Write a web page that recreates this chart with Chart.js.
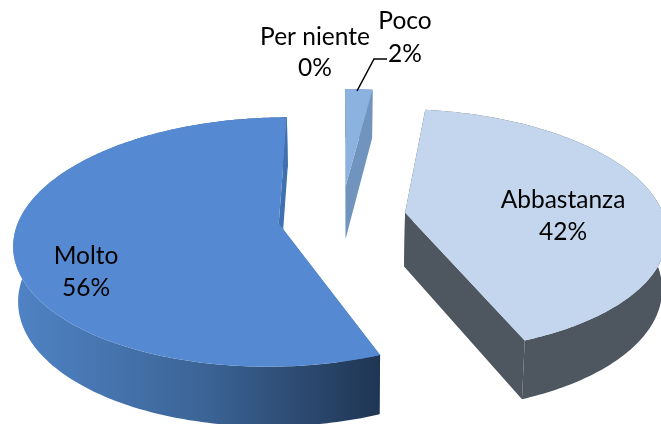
<!DOCTYPE html>
<html lang="it">
<head>
    <meta charset="UTF-8">
    <title>Torta 3D</title>
    <script src="https://cdn.jsdelivr.net/npm/chart.js"></script>
    <style>
        html, body { margin: 0; padding: 0; background: #fff; }
        canvas { display: block; }
    </style>
</head>
<body>
    <canvas id="pieChart" width="661" height="424"></canvas>

    <script>
        const categories = ['Per niente', 'Poco', 'Abbastanza', 'Molto'];
        const percentages = [0, 2, 42, 56];

        const topColors = ['#4f81bd', '#8cb2e0', '#c3d6ed', '#558ad2'];
        const wallColors = ['#4f81bd', '#7094be', '#4e5660', '#3f70b0'];
        const explode = [37, 34, 37, 37];

        // centre of each label (two lines: name, percentage)
        const labelSpots = [[315, 37, 68], [405, 21, 54], [563, 200, 232], [86, 256, 288]];
        const leaderLine = [[357, 91], [374, 59], [387, 59]];

        // how the flat pie is laid down in perspective
        const view = { cx: 342, cy: 217, sx: 259, sy: 120, persp: 0.147, liftY: 1.17, depth: 54, shrink: 0.985 };

        function project(u, v, low) {
            const w = 1 / (1 - view.persp * v);
            let x = view.cx + u * view.sx * w;
            let y = view.cy + v * view.sy * w;
            if (low) {
                x = view.cx + (x - view.cx) * view.shrink;
                y += view.depth * Math.pow(w, 0.6);
            }
            return [x, y];
        }

        function fillPath(ctx, pts, fill) {
            ctx.beginPath();
            pts.forEach((p, i) => i ? ctx.lineTo(p[0], p[1]) : ctx.moveTo(p[0], p[1]));
            ctx.closePath();
            ctx.fillStyle = fill;
            ctx.fill();
        }

        function drawSlice(ctx, arc, i) {
            const { startAngle, endAngle, outerRadius } = arc;
            if (endAngle - startAngle <= 0) return;

            const mid = (startAngle + endAngle) / 2;
            const e = arc.options.offset / outerRadius;
            const du = Math.cos(mid) * e;
            const dv = Math.sin(mid) * e * view.liftY;

            const rim = [];
            const steps = Math.max(2, Math.ceil((endAngle - startAngle) * 60));
            for (let s = 0; s <= steps; s++) {
                const a = startAngle + (endAngle - startAngle) * s / steps;
                rim.push([Math.cos(a) + du, Math.sin(a) + dv]);
            }
            const up = rim.map(p => project(p[0], p[1], false));
            const down = rim.map(p => project(p[0], p[1], true));
            const apex = project(du, dv, false);
            const apexLow = project(du, dv, true);

            let wallFill = wallColors[i];
            if (categories[i] === 'Molto') {
                wallFill = ctx.createLinearGradient(20, 0, 381, 0);
                wallFill.addColorStop(0, '#4f82c4');
                wallFill.addColorStop(0.5, '#3c6597');
                wallFill.addColorStop(1, '#1f3553');
            }

            // start wall is hidden behind the rim wall, end wall sits over it
            fillPath(ctx, [apex, up[0], down[0], apexLow], wallColors[i]);
            fillPath(ctx, up.concat(down.slice().reverse()), wallFill);
            fillPath(ctx, [apex, up[steps], down[steps], apexLow], wallColors[i]);
            fillPath(ctx, [apex].concat(up), topColors[i]);
        }

        const pie3d = {
            id: 'pie3d',
            beforeDatasetsDraw(chart) {
                const ctx = chart.ctx;
                ctx.save();
                chart.getDatasetMeta(0).data.forEach((arc, i) => drawSlice(ctx, arc, i));
                ctx.restore();
                return false;
            },
            afterDraw(chart) {
                const ctx = chart.ctx;
                ctx.save();
                ctx.strokeStyle = '#000';
                ctx.lineWidth = 1.5;
                ctx.beginPath();
                leaderLine.forEach((p, i) => i ? ctx.lineTo(p[0], p[1]) : ctx.moveTo(p[0], p[1]));
                ctx.stroke();

                ctx.fillStyle = '#000';
                ctx.font = '24.5px Lato';
                ctx.textAlign = 'center';
                ctx.textBaseline = 'middle';
                categories.forEach((name, i) => {
                    const spot = labelSpots[i];
                    ctx.fillText(name, spot[0], spot[1]);
                    ctx.fillText(percentages[i] + '%', spot[0], spot[2]);
                });
                ctx.restore();
            }
        };

        new Chart(document.getElementById('pieChart'), {
            type: 'pie',
            data: {
                labels: categories,
                datasets: [{
                    data: percentages,
                    backgroundColor: topColors,
                    borderWidth: 0,
                    offset: explode
                }]
            },
            options: {
                responsive: false,
                animation: false,
                radius: 150,
                plugins: {
                    legend: { display: false },
                    tooltip: { enabled: false }
                }
            },
            plugins: [pie3d]
        });
    </script>
</body>
</html>
